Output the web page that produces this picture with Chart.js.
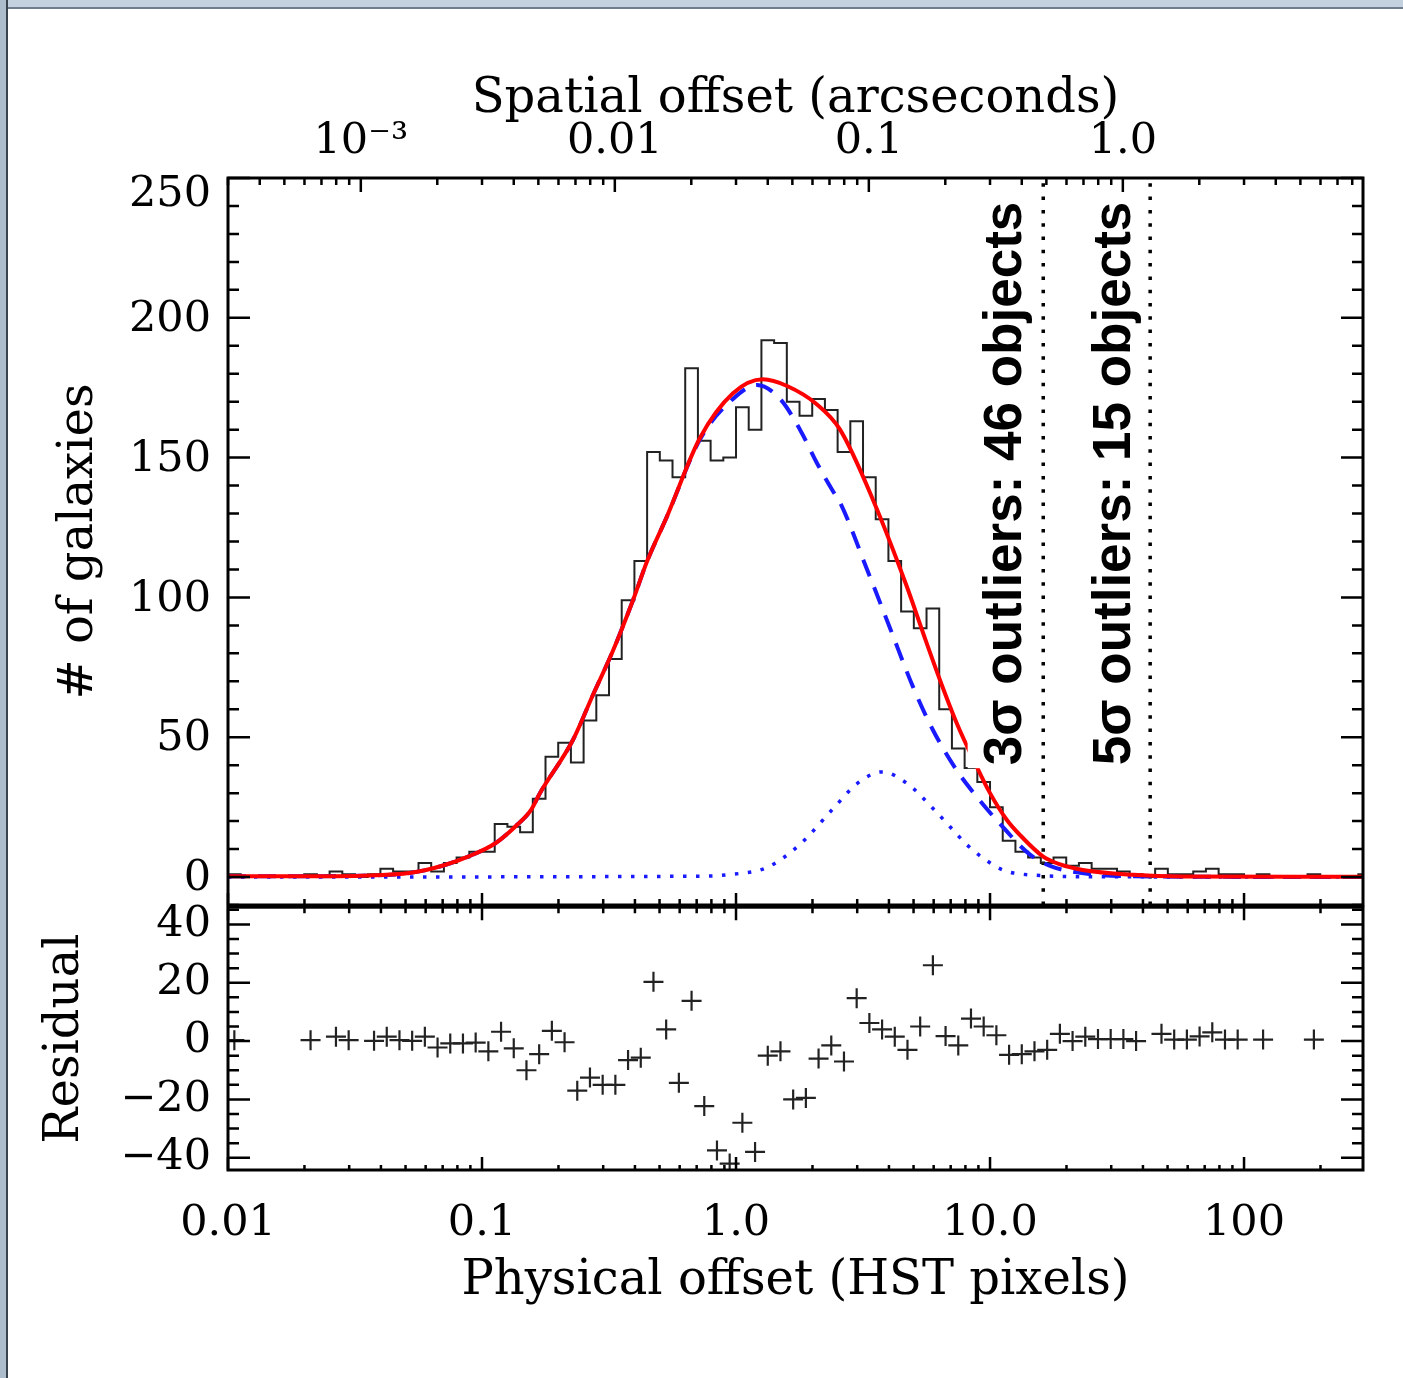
<!DOCTYPE html>
<html>
<head>
<meta charset="utf-8">
<script src="https://cdn.jsdelivr.net/npm/chart.js@4.4.1/dist/chart.umd.min.js"></script>
<style>
  html, body { margin: 0; padding: 0; background: #fff; }
  body { width: 1403px; height: 1378px; position: relative; overflow: hidden; }
  canvas { position: absolute; left: 0; }
  #histCanvas { top: 0; }
  #residCanvas { top: 895px; }
  #edgeTop { position: absolute; left: 0; top: 0; width: 1403px; height: 7px; background: #c3d1de; border-bottom: 2px solid #6d7d8d; }
  #edgeLeft { position: absolute; left: 0; top: 0; width: 6px; height: 1378px; background: #aebdcb; border-right: 2px solid #38434e; }
</style>
</head>
<body>
<canvas id="histCanvas" width="1403" height="910"></canvas>
<canvas id="residCanvas" width="1403" height="483"></canvas>
<div id="edgeTop"></div>
<div id="edgeLeft"></div>
<script>
// Histogram bins are 0.05 dex wide, first bin starts at 0.01 HST pixels
const binStartLog = -2;
const binWidthLog = 0.05;

const histCounts = [
  1, 0, 0, 0, 0, 0, 1, 0, 2, 1,
  0, 1, 3, 2, 2, 5, 2, 5, 7, 9,
  9, 19, 18, 16, 28, 43, 48, 41, 56, 65,
  78, 99, 113, 152, 149, 143, 182, 156, 149, 150,
  168, 160, 192, 191, 170, 165, 171, 167, 152, 163,
  143, 128, 113, 95, 89, 96, 60, 46, 39, 34,
  25, 13, 9, 7, 5, 7, 4, 5, 3, 3,
  2, 1, 0, 3, 1, 1, 2, 3, 1, 1,
  0, 1, 0, 0, 0, 1, 0, 0, 0, 1
];

// residual per bin (null = empty bin, no point)
const residuals = [
  0.3, null, null, null, null, null, 0.3, null, 1.5, 0.3,
  null, 0.1, 1.5, 0.3, 0.1, 1.5, -2.2, -0.8, -0.8, -0.5,
  -3.5, 3.2, -2.5, -10, -4.5, 3.5, -0.4, -17, -12.5, -15,
  -15, -6.5, -5.7, 20.3, 4, -14.3, 13.8, -22.3, -37.5, -42,
  -28, -38, -5, -3.5, -20, -19.5, -6, -1.5, -7, 14.7,
  6.2, 4, 1.5, -3, 5, 26, 1.7, -1.5, 7.7, 5,
  2, -4.7, -4.5, -3.5, -3, 2.5, 0, 1.5, 0.7, 0.7,
  0.7, 0, null, 2.5, 0.5, 0.5, 1.6, 3, 0.5, 0.5,
  null, 0.5, null, null, null, 0.5, null, null, null, null
];

// total model (red)
const totalX = [0.01, 0.0192, 0.0334, 0.0525, 0.0714, 0.0881, 0.1125, 0.135, 0.156, 0.169,
  0.228, 0.273, 0.328, 0.393, 0.447, 0.535, 0.721, 0.973, 1.276, 1.589,
  2.084, 2.568, 3.473, 4.70, 5.464, 6.356, 7.396, 8.60, 10.0, 11.63,
  13.13, 16.2, 18.9, 23.2, 36.6, 57.5, 294];
const totalY = [0.3, 0.3, 0.5, 1.5, 4.3, 7.3, 12, 18, 24, 30,
  49, 65, 81, 99, 113, 129, 157, 173, 178, 175.6,
  169, 160, 134.6, 104, 87, 70.4, 55, 42, 30, 20.5,
  15, 7.3, 4.5, 2.5, 0.8, 0.2, 0.1];

// main component (blue dashed)
const mainX = [0.01, 0.0192, 0.0334, 0.0525, 0.0714, 0.0881, 0.1125, 0.135, 0.156, 0.169,
  0.228, 0.273, 0.328, 0.393, 0.447, 0.535, 0.721, 0.973, 1.210, 1.490,
  1.786, 2.084, 2.409, 2.568, 3.280, 4.040, 4.976, 5.966, 7.418, 8.889,
  10.95, 14.37, 17.23, 22.61, 35.59, 294];
const mainY = [0.3, 0.3, 0.5, 1.5, 4.3, 7.3, 12, 18, 24, 30,
  49, 65, 81, 99, 113, 129, 156.5, 171, 176, 171,
  160, 148, 138, 134, 110, 89, 68, 52.5, 38, 28.6,
  19, 8, 4, 1.5, 0.3, 0];

// second component (blue dotted)
const secondX = [0.01, 0.721, 0.973, 1.324, 1.786, 2.409, 2.996, 3.757, 4.712, 5.966,
  6.958, 8.117, 9.385, 11.25, 14.77, 27.1, 294];
const secondY = [0, 0.3, 1, 3.4, 11.7, 24.4, 33.4, 37.6, 33.5, 24.5,
  18, 11.5, 6.8, 2.5, 0.7, 0.1, 0];

const outlierCuts = [16.2, 42.7];
const outlierLabels = ['3σ outliers: 46 objects', '5σ outliers: 15 objects'];

const pixelTicks = [0.01, 0.1, 1, 10, 100];
const pixelTickLabels = ['0.01', '0.1', '1.0', '10.0', '100'];
const arcsecTicks = [0.001, 0.01, 0.1, 1];
const arcsecTickLabels = ['10\u207B\u00B3', '0.01', '0.1', '1.0'];
const countTicks = [0, 50, 100, 150, 200, 250];
const residTicks = [-40, -20, 0, 20, 40];

const arcsecPerPixel = 0.03;
const xMin = 0.01;
const xMax = 294;

Chart.defaults.color = '#000';
Chart.defaults.font.family = '"DejaVu Serif", serif';

const binEdge = i => Math.pow(10, binStartLog + i * binWidthLog);
const histPoints = histCounts.map((c, i) => ({ x: binEdge(i), y: c }));
histPoints.push({ x: binEdge(histCounts.length), y: histCounts[histCounts.length - 1] });

const residPoints = [];
residuals.forEach((r, i) => {
  if (r !== null) residPoints.push({ x: Math.pow(10, binStartLog + (i + 0.5) * binWidthLog), y: r });
});

const pairs = (xs, ys) => xs.map((x, i) => ({ x: x, y: ys[i] }));

// keep Chart.js from reserving room for overhanging labels
function noPad(s) {
  s.paddingTop = 0;
  s.paddingBottom = 0;
  s.paddingLeft = 0;
  s.paddingRight = 0;
}

// inward tick marks and the box
function logTicks(ctx, scale, y, dir, majorLen, minorLen) {
  const lo = Math.floor(Math.log10(scale.min));
  const hi = Math.ceil(Math.log10(scale.max));
  for (let e = lo; e <= hi; e++) {
    for (let m = 1; m < 10; m++) {
      const v = m * Math.pow(10, e);
      if (v < scale.min * 0.9999 || v > scale.max) continue;
      const px = scale.getPixelForValue(v);
      ctx.moveTo(px, y);
      ctx.lineTo(px, y + dir * (m === 1 ? majorLen : minorLen));
    }
  }
}

function linTicks(ctx, scale, area, minor, major, majorLen, minorLen) {
  const start = Math.ceil(scale.min / minor);
  const end = Math.floor(scale.max / minor);
  for (let k = start; k <= end; k++) {
    const v = k * minor;
    const py = scale.getPixelForValue(v);
    const len = (Math.abs(v % major) < 1e-9) ? majorLen : minorLen;
    ctx.moveTo(area.left, py);
    ctx.lineTo(area.left + len, py);
    ctx.moveTo(area.right, py);
    ctx.lineTo(area.right - len, py);
  }
}

const histFrame = {
  id: 'histFrame',
  afterDraw(chart) {
    const { ctx, chartArea: a, scales } = chart;
    ctx.save();
    ctx.strokeStyle = '#000';
    ctx.lineWidth = 2.5;
    ctx.beginPath();
    linTicks(ctx, scales.y, a, 10, 50, 22, 11);
    logTicks(ctx, scales.x2, a.top, 1, 14, 7);
    logTicks(ctx, scales.x, a.bottom, -1, 12, 6);
    ctx.stroke();
    ctx.lineWidth = 3;
    ctx.strokeRect(a.left, a.top, a.right - a.left, a.bottom - a.top);

    // count labels; the top one sits just inside the frame like the original
    ctx.fillStyle = '#000';
    ctx.font = '43px "DejaVu Serif", serif';
    ctx.textAlign = 'right';
    ctx.textBaseline = 'middle';
    countTicks.forEach(v => {
      let py = scales.y.getPixelForValue(v);
      if (v === countTicks[countTicks.length - 1]) py += 15;
      ctx.fillText(String(v), a.left - 17, py + 2);
    });
    ctx.restore();
  }
};

const residFrame = {
  id: 'residFrame',
  afterDraw(chart) {
    const { ctx, chartArea: a, scales } = chart;
    ctx.save();
    ctx.strokeStyle = '#000';
    ctx.lineWidth = 2.5;
    ctx.beginPath();
    linTicks(ctx, scales.y, a, 5, 20, 22, 11);
    logTicks(ctx, scales.x, a.top, 1, 13, 6);
    logTicks(ctx, scales.x, a.bottom, -1, 13, 5);
    ctx.stroke();
    ctx.lineWidth = 3;
    ctx.strokeRect(a.left, a.top, a.right - a.left, a.bottom - a.top);
    ctx.restore();
  }
};

// rotated outlier notes, baseline x in HST pixels, bottom at 40 galaxies
const labelBaseX = [13.2, 35.6];
const labelBottomY = 40;
const outlierText = {
  id: 'outlierText',
  afterDatasetsDraw(chart) {
    const { ctx, scales: { x, y } } = chart;
    ctx.save();
    ctx.font = 'bold 53px "Liberation Sans", Arial, sans-serif';
    outlierLabels.forEach((text, i) => {
      const bx = x.getPixelForValue(labelBaseX[i]);
      const by = y.getPixelForValue(labelBottomY);
      const w = ctx.measureText(text).width;
      ctx.fillStyle = '#fff';
      ctx.fillRect(bx - 53, by - w - 4, 64, w + 7);
      ctx.save();
      ctx.translate(bx, by);
      ctx.rotate(-Math.PI / 2);
      ctx.fillStyle = '#000';
      ctx.textAlign = 'left';
      ctx.textBaseline = 'alphabetic';
      ctx.fillText(text, 0, 0);
      ctx.restore();
    });
    ctx.restore();
  }
};

const noGrid = { display: false, drawTicks: false };
const noBorder = { display: false };

new Chart(document.getElementById('histCanvas'), {
  type: 'line',
  data: {
    datasets: [
      {
        data: pairs(totalX, totalY),
        borderColor: '#ff0000',
        borderWidth: 4,
        cubicInterpolationMode: 'monotone'
      },
      {
        data: pairs(mainX, mainY),
        borderColor: '#1a1aff',
        borderWidth: 4,
        borderDash: [18, 12],
        cubicInterpolationMode: 'monotone'
      },
      {
        data: pairs(secondX, secondY),
        borderColor: '#1a1aff',
        borderWidth: 3.5,
        borderDash: [3.5, 9.5],
        cubicInterpolationMode: 'monotone'
      },
      {
        data: histPoints,
        borderColor: '#222',
        borderWidth: 2,
        stepped: 'before'
      },
      {
        data: [{ x: outlierCuts[0], y: -10 }, { x: outlierCuts[0], y: 250 }],
        borderColor: '#000',
        borderWidth: 3.5,
        borderDash: [3.5, 9.8]
      },
      {
        data: [{ x: outlierCuts[1], y: -10 }, { x: outlierCuts[1], y: 250 }],
        borderColor: '#000',
        borderWidth: 3.5,
        borderDash: [3.5, 9.8]
      }
    ]
  },
  options: {
    responsive: false,
    animation: false,
    devicePixelRatio: 1,
    layout: { padding: { left: 0, right: 40, top: 0, bottom: 5 } },
    elements: { point: { radius: 0 } },
    plugins: { legend: { display: false }, tooltip: { enabled: false } },
    scales: {
      x: {
        type: 'logarithmic',
        position: 'bottom',
        display: false,
        min: xMin,
        max: xMax
      },
      x2: {
        type: 'logarithmic',
        position: 'top',
        min: xMin * arcsecPerPixel,
        max: xMax * arcsecPerPixel,
        grid: noGrid,
        border: noBorder,
        afterBuildTicks: s => { s.ticks = arcsecTicks.map(v => ({ value: v })); },
        afterFit: s => { s.height = 178; noPad(s); },
        ticks: {
          autoSkip: false,
          maxRotation: 0,
          padding: 10,
          font: { size: 43 },
          callback: (v, i) => arcsecTickLabels[i]
        },
        title: {
          display: true,
          text: 'Spatial offset (arcseconds)',
          font: { size: 48 },
          padding: { top: 71, bottom: 0 }
        }
      },
      y: {
        type: 'linear',
        position: 'left',
        min: -10,
        max: 250,
        grid: noGrid,
        border: noBorder,
        afterBuildTicks: s => { s.ticks = countTicks.map(v => ({ value: v })); },
        afterFit: s => { s.width = 228; noPad(s); },
        ticks: { display: false },
        title: {
          display: true,
          text: '# of galaxies',
          font: { size: 48 },
          padding: { top: 51, bottom: 0 }
        }
      }
    }
  },
  plugins: [outlierText, histFrame]
});

new Chart(document.getElementById('residCanvas'), {
  type: 'scatter',
  data: {
    datasets: [{
      data: residPoints,
      pointStyle: 'cross',
      pointRadius: 10,
      borderColor: '#222',
      borderWidth: 2.2,
      clip: 1
    }]
  },
  options: {
    responsive: false,
    animation: false,
    devicePixelRatio: 1,
    layout: { padding: { left: 0, right: 40, top: 10, bottom: 0 } },
    plugins: { legend: { display: false }, tooltip: { enabled: false } },
    scales: {
      x: {
        type: 'logarithmic',
        position: 'bottom',
        min: xMin,
        max: xMax,
        grid: noGrid,
        border: noBorder,
        afterBuildTicks: s => { s.ticks = pixelTicks.map(v => ({ value: v })); },
        afterFit: s => { s.height = 208; noPad(s); },
        ticks: {
          autoSkip: false,
          maxRotation: 0,
          padding: 28,
          font: { size: 43 },
          callback: (v, i) => pixelTickLabels[i]
        },
        title: {
          display: true,
          text: 'Physical offset (HST pixels)',
          font: { size: 48 },
          padding: { top: 0, bottom: 68 }
        }
      },
      y: {
        type: 'linear',
        position: 'left',
        min: -44.2,
        max: 45.9,
        grid: noGrid,
        border: noBorder,
        afterBuildTicks: s => { s.ticks = residTicks.map(v => ({ value: v })); },
        afterFit: s => { s.width = 228; noPad(s); },
        ticks: {
          padding: 17,
          font: { size: 43 },
          callback: v => (v < 0 ? '\u2212' + Math.abs(v) : String(v))
        },
        title: {
          display: true,
          text: 'Residual',
          font: { size: 48 },
          padding: { top: 37, bottom: 0 }
        }
      }
    }
  },
  plugins: [residFrame]
});
</script>
</body>
</html>
